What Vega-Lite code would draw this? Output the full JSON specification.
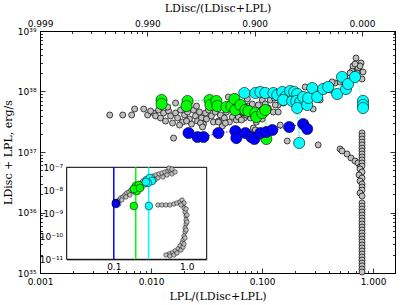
{
"$schema": "https://vega.github.io/schema/vega-lite/v6.json",
"width": 355, "height": 242,
"autosize": {"type": "none"},
"padding": {"left": 40, "top": 31, "right": 12, "bottom": 32},
"background": "white",
"config": {
  "view": {"stroke": "black", "strokeWidth": 1},
  "axis": {"grid": false, "domainColor": "black", "tickColor": "black", "labelColor": "black", "labelFont": "DejaVu Sans", "labelFontSize": 9, "titleFont": "DejaVu Serif", "titleFontSize": 11, "titleFontWeight": "normal", "titleColor": "black", "labelFlush": false, "labelOverlap": false, "labelBound": false, "zindex": 1, "tickWidth": 0.8, "domainWidth": 1}
},
"datasets": {
"main": [
{"x":0.00425,"y":4.09e37,"c":"grey"},{"x":0.00556,"y":4.09e37,"c":"grey"},{"x":0.0067,"y":4.09e37,"c":"grey"},{"x":0.00712,"y":5.14e37,"c":"grey"},{"x":0.00859,"y":5.14e37,"c":"grey"},{"x":0.00932,"y":4.09e37,"c":"grey"},{"x":0.01055,"y":4.41e37,"c":"grey"},{"x":0.00991,"y":4.76e37,"c":"grey"},{"x":0.01099,"y":3.94e37,"c":"grey"},{"x":0.0117,"y":4.94e37,"c":"grey"},{"x":0.01219,"y":3.65e37,"c":"grey"},{"x":0.01298,"y":4.41e37,"c":"grey"},{"x":0.01352,"y":3.25e37,"c":"grey"},{"x":0.01439,"y":4.76e37,"c":"grey"},{"x":0.015,"y":3.94e37,"c":"grey"},{"x":0.01563,"y":3.01e37,"c":"grey"},{"x":0.01664,"y":4.41e37,"c":"grey"},{"x":0.01734,"y":3.65e37,"c":"grey"},{"x":0.01845,"y":4.94e37,"c":"grey"},{"x":0.01923,"y":3.13e37,"c":"grey"},{"x":0.02004,"y":4.09e37,"c":"grey"},{"x":0.02133,"y":4.58e37,"c":"grey"},{"x":0.02223,"y":3.51e37,"c":"grey"},{"x":0.02317,"y":2.9e37,"c":"grey"},{"x":0.02415,"y":4.94e37,"c":"grey"},{"x":0.02517,"y":3.94e37,"c":"grey"},{"x":0.02624,"y":3.25e37,"c":"grey"},{"x":0.02735,"y":4.58e37,"c":"grey"},{"x":0.02851,"y":3.65e37,"c":"grey"},{"x":0.02972,"y":2.9e37,"c":"grey"},{"x":0.03097,"y":4.41e37,"c":"grey"},{"x":0.03162,"y":3.51e37,"c":"grey"},{"x":0.03296,"y":4.94e37,"c":"grey"},{"x":0.035,"y":3.94e37,"c":"grey"},{"x":0.03648,"y":3.13e37,"c":"grey"},{"x":0.03802,"y":4.58e37,"c":"grey"},{"x":0.04046,"y":3.25e37,"c":"grey"},{"x":0.04217,"y":4.09e37,"c":"grey"},{"x":0.04395,"y":2.69e37,"c":"grey"},{"x":0.04581,"y":3.65e37,"c":"grey"},{"x":0.04775,"y":4.58e37,"c":"grey"},{"x":0.05082,"y":3.13e37,"c":"grey"},{"x":0.05408,"y":3.79e37,"c":"grey"},{"x":0.05875,"y":3.38e37,"c":"grey"},{"x":0.06252,"y":4.25e37,"c":"grey"},{"x":0.06653,"y":4.58e37,"c":"grey"},{"x":0.06934,"y":3.65e37,"c":"grey"},{"x":0.07534,"y":5.75e37,"c":"grey"},{"x":0.08185,"y":6.21e37,"c":"grey"},{"x":0.07852,"y":3.65e37,"c":"grey"},{"x":0.09268,"y":5.98e37,"c":"grey"},{"x":0.1007,"y":7.24e37,"c":"grey"},{"x":0.1071,"y":6.21e37,"c":"grey"},{"x":0.1189,"y":7.24e37,"c":"grey"},{"x":0.1291,"y":7.81e37,"c":"grey"},{"x":0.14,"y":5.98e37,"c":"grey"},{"x":0.114,"y":5.33e37,"c":"grey"},{"x":0.01597,"y":1.7e37,"c":"grey"},{"x":0.02792,"y":3.01e37,"c":"grey"},{"x":0.02911,"y":2.59e37,"c":"grey"},{"x":0.04046,"y":3.13e37,"c":"grey"},{"x":0.04677,"y":3.01e37,"c":"grey"},{"x":0.05754,"y":8.11e37,"c":"grey"},{"x":0.04977,"y":8.11e37,"c":"grey"},{"x":0.06124,"y":3.79e37,"c":"grey"},{"x":0.06516,"y":3.38e37,"c":"grey"},{"x":0.08356,"y":2.49e37,"c":"grey"},{"x":0.0871,"y":2.31e37,"c":"grey"},{"x":0.1265,"y":4.58e37,"c":"grey"},{"x":0.1318,"y":5.98e37,"c":"grey"},{"x":0.14,"y":4.58e37,"c":"grey"},{"x":0.1459,"y":2.79e37,"c":"grey"},{"x":0.1687,"y":1.52e37,"c":"grey"},{"x":0.3206,"y":1.31e37,"c":"grey"},{"x":0.01664,"y":6.45e37,"c":"grey"},{"x":0.0141,"y":5.54e37,"c":"grey"},{"x":0.2449,"y":1.19e38,"c":"grey"},{"x":0.456,"y":1.38e38,"c":"grey"},{"x":0.4285,"y":1.44e38,"c":"grey"},{"x":0.2891,"y":5.14e37,"c":"grey"},{"x":0.6471,"y":2.18e38,"c":"grey"},{"x":0.6607,"y":2.64e38,"c":"grey"},{"x":0.7031,"y":3.58e38,"c":"grey"},{"x":0.7798,"y":2.96e38,"c":"grey"},{"x":0.7328,"y":2.44e38,"c":"grey"},{"x":0.8128,"y":2.1e38,"c":"grey"},{"x":0.7962,"y":1.61e38,"c":"grey"},{"x":0.7178,"y":2.02e38,"c":"grey"},{"x":0.6212,"y":2.02e38,"c":"grey"},{"x":0.5603,"y":1.67e38,"c":"grey"},{"x":0.5054,"y":1.44e38,"c":"grey"},{"x":0.3706,"y":1.23e38,"c":"grey"},{"x":0.3013,"y":1.06e38,"c":"grey"},{"x":0.2208,"y":8.75e37,"c":"grey"},{"x":0.1795,"y":7.81e37,"c":"grey"},{"x":0.1553,"y":6.45e37,"c":"grey"},{"x":0.07228,"y":4.09e37,"c":"grey"},{"x":0.02089,"y":3.25e37,"c":"grey"},{"x":0.01807,"y":2.79e37,"c":"grey"},{"x":0.01219,"y":5.75e37,"c":"grey"},{"x":0.0257,"y":5.75e37,"c":"grey"},{"x":0.03577,"y":5.98e37,"c":"grey"},{"x":0.08892,"y":3.13e37,"c":"grey"},{"x":0.1007,"y":3.51e37,"c":"grey"},{"x":0.07379,"y":7.52e37,"c":"grey"},{"x":0.3342,"y":7.24e37,"c":"grey"},{"x":0.411,"y":1.06e38,"c":"grey"},{"x":0.5603,"y":1.33e38,"c":"grey"},{"x":0.7638,"y":2.64e38,"c":"grey"},{"x":0.6887,"y":2.85e38,"c":"grey"},
{"x":0.5054,"y":1.12e37,"c":"grey"},{"x":0.526,"y":1.04e37,"c":"grey"},{"x":0.5834,"y":9.27e36,"c":"grey"},{"x":0.6339,"y":7.96e36,"c":"grey"},{"x":0.6887,"y":7.1e36,"c":"grey"},{"x":0.7328,"y":6.58e36,"c":"grey"},{"x":0.7638,"y":5.65e36,"c":"grey"},
{"x":0.7962,"y":2.06e37,"c":"grey"},{"x":0.7962,"y":1.84e37,"c":"grey"},{"x":0.7962,"y":1.64e37,"c":"grey"},{"x":0.7962,"y":1.46e37,"c":"grey"},{"x":0.7962,"y":1.31e37,"c":"grey"},{"x":0.7962,"y":1.16e37,"c":"grey"},{"x":0.7962,"y":1.04e37,"c":"grey"},{"x":0.7962,"y":9.27e36,"c":"grey"},{"x":0.7962,"y":8.26e36,"c":"grey"},{"x":0.7962,"y":7.38e36,"c":"grey"},{"x":0.7962,"y":6.58e36,"c":"grey"},{"x":0.7962,"y":5.87e36,"c":"grey"},{"x":0.7638,"y":5.24e36,"c":"grey"},{"x":0.7962,"y":4.67e36,"c":"grey"},{"x":0.7482,"y":4.17e36,"c":"grey"},{"x":0.7962,"y":3.72e36,"c":"grey"},{"x":0.7638,"y":3.32e36,"c":"grey"},{"x":0.7962,"y":2.96e36,"c":"grey"},{"x":0.7962,"y":2.64e36,"c":"grey"},{"x":0.7962,"y":2.35e36,"c":"grey"},{"x":0.7638,"y":2.1e36,"c":"grey"},{"x":0.7962,"y":1.87e36,"c":"grey"},
{"x":0.7962,"y":1.44e36,"c":"grey"},{"x":0.7962,"y":1.28e36,"c":"grey"},{"x":0.7962,"y":1.14e36,"c":"grey"},{"x":0.7962,"y":1.02e36,"c":"grey"},{"x":0.7962,"y":9.1e35,"c":"grey"},{"x":0.7962,"y":8.11e35,"c":"grey"},{"x":0.7962,"y":7.24e35,"c":"grey"},{"x":0.7962,"y":6.45e35,"c":"grey"},{"x":0.7962,"y":5.75e35,"c":"grey"},{"x":0.7962,"y":5.14e35,"c":"grey"},{"x":0.7962,"y":4.58e35,"c":"grey"},{"x":0.7962,"y":4.09e35,"c":"grey"},{"x":0.7962,"y":3.65e35,"c":"grey"},{"x":0.7962,"y":3.25e35,"c":"grey"},{"x":0.7962,"y":2.9e35,"c":"grey"},{"x":0.7962,"y":2.59e35,"c":"grey"},{"x":0.7962,"y":2.31e35,"c":"grey"},{"x":0.7962,"y":2.06e35,"c":"grey"},{"x":0.7962,"y":1.84e35,"c":"grey"},{"x":0.7962,"y":1.64e35,"c":"grey"},{"x":0.7962,"y":1.46e35,"c":"grey"},{"x":0.7962,"y":1.31e35,"c":"grey"},{"x":0.7962,"y":1.16e35,"c":"grey"},{"x":0.7962,"y":1.04e35,"c":"grey"},
{"x":0.01245,"y":7.24e37,"c":"green"},{"x":0.01245,"y":6.21e37,"c":"green"},{"x":0.02133,"y":6.97e37,"c":"green"},{"x":0.02089,"y":5.75e37,"c":"green"},{"x":0.03365,"y":7.24e37,"c":"green"},{"x":0.03436,"y":5.98e37,"c":"green"},{"x":0.03882,"y":6.97e37,"c":"green"},{"x":0.03963,"y":5.75e37,"c":"green"},{"x":0.04775,"y":5.54e37,"c":"green"},{"x":0.05297,"y":5.75e37,"c":"green"},{"x":0.05636,"y":7.52e37,"c":"green"},{"x":0.05754,"y":4.94e37,"c":"green"},{"x":0.06383,"y":5.98e37,"c":"green"},{"x":0.07079,"y":4.94e37,"c":"green"},{"x":0.07534,"y":4.76e37,"c":"green"},{"x":0.0871,"y":4.41e37,"c":"green"},{"x":0.08892,"y":3.79e37,"c":"green"},{"x":0.1007,"y":4.41e37,"c":"green"},{"x":0.1071,"y":4.94e37,"c":"green"},{"x":0.1094,"y":1.64e37,"c":"green"},
{"x":0.02178,"y":2.06e37,"c":"blue"},{"x":0.02624,"y":1.77e37,"c":"blue"},{"x":0.02972,"y":1.77e37,"c":"blue"},{"x":0.04046,"y":2.06e37,"c":"blue"},{"x":0.05754,"y":2.22e37,"c":"blue"},{"x":0.05875,"y":1.7e37,"c":"blue"},{"x":0.07079,"y":2.06e37,"c":"blue"},{"x":0.08017,"y":1.77e37,"c":"blue"},{"x":0.08531,"y":1.64e37,"c":"blue"},{"x":0.0966,"y":2.06e37,"c":"blue"},{"x":0.1094,"y":2.14e37,"c":"blue"},{"x":0.1239,"y":2.31e37,"c":"blue"},{"x":0.1758,"y":2.59e37,"c":"blue"},{"x":0.235,"y":2.9e37,"c":"blue"},{"x":0.2553,"y":2.4e37,"c":"blue"},
{"x":0.06934,"y":9.45e37,"c":"cyan"},{"x":0.0871,"y":9.45e37,"c":"cyan"},{"x":0.0966,"y":9.82e37,"c":"cyan"},{"x":0.1071,"y":9.45e37,"c":"cyan"},{"x":0.1265,"y":9.45e37,"c":"cyan"},{"x":0.1372,"y":8.75e37,"c":"cyan"},{"x":0.1521,"y":9.82e37,"c":"cyan"},{"x":0.1618,"y":8.11e37,"c":"cyan"},{"x":0.1553,"y":7.24e37,"c":"cyan"},{"x":0.1795,"y":1.02e38,"c":"cyan"},{"x":0.1871,"y":6.97e37,"c":"cyan"},{"x":0.195,"y":9.82e37,"c":"cyan"},{"x":0.2075,"y":9.1e37,"c":"cyan"},{"x":0.2032,"y":6.97e37,"c":"cyan"},{"x":0.2208,"y":6.7e37,"c":"cyan"},{"x":0.2075,"y":5.33e37,"c":"cyan"},{"x":0.235,"y":8.11e37,"c":"cyan"},{"x":0.2553,"y":5.98e37,"c":"cyan"},{"x":0.2606,"y":7.81e37,"c":"cyan"},{"x":0.2831,"y":1.14e38,"c":"cyan"},{"x":0.3141,"y":8.11e37,"c":"cyan"},{"x":0.3556,"y":1.1e38,"c":"cyan"},{"x":0.3944,"y":1.19e38,"c":"cyan"},{"x":0.475,"y":9.1e37,"c":"cyan"},{"x":0.526,"y":1.74e38,"c":"cyan"},{"x":0.5715,"y":1.1e38,"c":"cyan"},{"x":0.5957,"y":1.33e38,"c":"cyan"},{"x":0.6887,"y":1.74e38,"c":"cyan"},{"x":0.8128,"y":6.97e37,"c":"cyan"},{"x":0.8128,"y":5.98e37,"c":"cyan"},{"x":0.8128,"y":5.33e37,"c":"cyan"},{"x":0.2163,"y":1.41e37,"c":"cyan"}
],
"inset": [
{"x":0.11,"y":3.1e-9,"c":"grey"},{"x":0.1172,"y":3.79e-9,"c":"grey"},{"x":0.1248,"y":4.63e-9,"c":"grey"},{"x":0.133,"y":5.11e-9,"c":"grey"},{"x":0.1416,"y":6.25e-9,"c":"grey"},{"x":0.1509,"y":7.63e-9,"c":"grey"},{"x":0.1607,"y":8.44e-9,"c":"grey"},{"x":0.1713,"y":1.03e-8,"c":"grey"},{"x":0.1824,"y":1.14e-8,"c":"grey"},{"x":0.1944,"y":1.39e-8,"c":"grey"},{"x":0.2071,"y":1.54e-8,"c":"grey"},{"x":0.2207,"y":1.88e-8,"c":"grey"},{"x":0.235,"y":2.08e-8,"c":"grey"},{"x":0.2504,"y":2.54e-8,"c":"grey"},{"x":0.2667,"y":2.81e-8,"c":"grey"},{"x":0.2935,"y":3.1e-8,"c":"grey"},{"x":0.3126,"y":3.43e-8,"c":"grey"},{"x":0.3439,"y":4.19e-8,"c":"grey"},{"x":0.3781,"y":4.63e-8,"c":"grey"},{"x":0.4157,"y":5.11e-8,"c":"grey"},{"x":0.4572,"y":5.65e-8,"c":"grey"},{"x":0.5028,"y":6.25e-8,"c":"grey"},{"x":0.553,"y":6.91e-8,"c":"grey"},{"x":0.5894,"y":7.63e-8,"c":"grey"},{"x":0.6279,"y":5.11e-8,"c":"grey"},{"x":0.5709,"y":9.33e-8,"c":"grey"},{"x":0.5356,"y":4.63e-8,"c":"grey"},{"x":0.472,"y":3.79e-8,"c":"grey"},{"x":0.4027,"y":3.43e-8,"c":"grey"},{"x":0.3662,"y":2.81e-8,"c":"grey"},{"x":0.3331,"y":2.3e-8,"c":"grey"},{"x":0.2935,"y":1.88e-8,"c":"grey"},{"x":0.2667,"y":1.7e-8,"c":"grey"},{"x":0.2426,"y":1.26e-8,"c":"grey"},{"x":0.2138,"y":1.03e-8,"c":"grey"},{"x":0.1883,"y":8.44e-9,"c":"grey"},{"x":0.1659,"y":6.25e-9,"c":"grey"},{"x":0.1462,"y":5.11e-9,"c":"grey"},{"x":0.1288,"y":3.79e-9,"c":"grey"},{"x":0.1172,"y":2.54e-9,"c":"grey"},{"x":0.6905,"y":6.25e-8,"c":"grey"},{"x":0.6279,"y":8.44e-8,"c":"grey"},
{"x":0.4027,"y":2.3e-9,"c":"grey"},{"x":0.4572,"y":2.3e-9,"c":"grey"},{"x":0.519,"y":2.3e-9,"c":"grey"},{"x":0.5894,"y":2.3e-9,"c":"grey"},{"x":0.668,"y":2.54e-9,"c":"grey"},{"x":0.7355,"y":2.81e-9,"c":"grey"},{"x":0.809,"y":3.1e-9,"c":"grey"},{"x":0.8623,"y":3.79e-9,"c":"grey"},{"x":0.8902,"y":2.54e-9,"c":"grey"},{"x":0.9191,"y":1.7e-9,"c":"grey"},{"x":0.9489,"y":1.14e-9,"c":"grey"},{"x":0.9796,"y":7.63e-10,"c":"grey"},{"x":0.9796,"y":5.11e-10,"c":"grey"},{"x":0.9796,"y":3.43e-10,"c":"grey"},{"x":0.9489,"y":2.3e-10,"c":"grey"},{"x":0.9489,"y":1.54e-10,"c":"grey"},{"x":0.9191,"y":1.03e-10,"c":"grey"},{"x":0.8902,"y":6.91e-11,"c":"grey"},{"x":0.8623,"y":5.11e-11,"c":"grey"},{"x":0.809,"y":3.79e-11,"c":"grey"},{"x":0.759,"y":2.81e-11,"c":"grey"},{"x":0.6905,"y":2.3e-11,"c":"grey"},{"x":0.6279,"y":1.88e-11,"c":"grey"},{"x":0.5709,"y":1.7e-11,"c":"grey"},{"x":0.519,"y":1.54e-11,"c":"grey"},{"x":0.5894,"y":1.39e-11,"c":"grey"},{"x":0.668,"y":1.54e-11,"c":"grey"},{"x":0.7355,"y":1.88e-11,"c":"grey"},{"x":0.8352,"y":2.54e-11,"c":"grey"},{"x":0.8902,"y":3.43e-11,"c":"grey"},{"x":0.9191,"y":4.63e-11,"c":"grey"},{"x":0.9489,"y":8.44e-11,"c":"grey"},{"x":0.9796,"y":1.88e-10,"c":"grey"},{"x":1.009,"y":4.19e-10,"c":"grey"},{"x":1.009,"y":8.44e-10,"c":"grey"},{"x":0.9796,"y":1.54e-9,"c":"grey"},{"x":0.9191,"y":2.81e-9,"c":"grey"},{"x":0.8352,"y":2.3e-9,"c":"grey"},
{"x":0.1066,"y":2.81e-9,"c":"blue"},{"x":0.1066,"y":2.54e-9,"c":"blue"},
{"x":0.1883,"y":2.08e-9,"c":"green"},{"x":0.2009,"y":1.54e-8,"c":"green"},{"x":0.2207,"y":1.7e-8,"c":"green"},{"x":0.2071,"y":9.33e-9,"c":"green"},{"x":0.1883,"y":1.14e-8,"c":"green"},{"x":0.228,"y":1.26e-8,"c":"green"},
{"x":0.3027,"y":2.08e-9,"c":"cyan"},{"x":0.2844,"y":2.81e-8,"c":"cyan"},{"x":0.3126,"y":3.43e-8,"c":"cyan"},{"x":0.3331,"y":2.54e-8,"c":"cyan"},{"x":0.2935,"y":2.08e-8,"c":"cyan"},{"x":0.2754,"y":2.3e-8,"c":"cyan"}
],
"vlines": [
{"x":0.1,"y":1e-11,"y2":1e-7,"c":"blue"},{"x":0.2,"y":1e-11,"y2":1e-7,"c":"green"},{"x":0.3,"y":1e-11,"y2":1e-7,"c":"cyan"}
],
"frame": [{"x":0.0226,"x2":1.88,"y":1e-11,"y2":1e-7}]
},
"layer": [
{
  "data": {"name": "main"},
  "encoding": {
    "x": {"field": "x", "type": "quantitative", "scale": {"type": "log", "domain": [0.001, 1.578], "nice": false},
      "axis": {"orient": "bottom", "title": "LPL/(LDisc+LPL)", "titlePadding": 2,
        "values": [0.001,0.002,0.003,0.004,0.005,0.006,0.007,0.008,0.009,0.01,0.02,0.03,0.04,0.05,0.06,0.07,0.08,0.09,0.1,0.2,0.3,0.4,0.5,0.6,0.7,0.8,0.9,1],
        "labelExpr": "abs(log(datum.value)/LN10-round(log(datum.value)/LN10))<0.001 ? format(datum.value, '.3f') : ''",
        "tickSize": {"condition": {"test": "abs(log(datum.value)/LN10-round(log(datum.value)/LN10))<0.001", "value": -5}, "value": -2.5},
        "labelPadding": 9}},
    "y": {"field": "y", "type": "quantitative", "scale": {"type": "log", "domain": [1e35, 1e39], "nice": false},
      "axis": {"orient": "left", "title": "LDisc + LPL, erg/s", "titlePadding": 4,
        "values": [1e35,2e35,3e35,4e35,5e35,6e35,7e35,8e35,9e35,1e36,2e36,3e36,4e36,5e36,6e36,7e36,8e36,9e36,1e37,2e37,3e37,4e37,5e37,6e37,7e37,8e37,9e37,1e38,2e38,3e38,4e38,5e38,6e38,7e38,8e38,9e38,1e39],
        "labelExpr": "datum.value==1e35?'10³⁵':datum.value==1e36?'10³⁶':datum.value==1e37?'10³⁷':datum.value==1e38?'10³⁸':datum.value==1e39?'10³⁹':''",
        "tickSize": {"condition": {"test": "abs(log(datum.value)/LN10-round(log(datum.value)/LN10))<0.001", "value": -5}, "value": -2.5},
        "labelPadding": 9}},
    "color": {"field": "c", "type": "nominal", "scale": {"domain": ["grey", "blue", "green", "cyan"], "range": ["#c0c0c0", "#0000ff", "#00ff00", "#00ffff"]}, "legend": null}
  },
  "layer": [
    {"transform": [{"filter": "datum.c == 'grey'"}], "mark": {"type": "circle", "size": 36, "stroke": "black", "strokeWidth": 0.7, "opacity": 1}},
    {"transform": [{"filter": "datum.c != 'grey'"}], "mark": {"type": "line", "strokeDash": [1.5, 1.5], "strokeWidth": 0.8}},
    {"transform": [{"filter": "datum.c != 'grey'"}], "mark": {"type": "circle", "size": 125, "stroke": "black", "strokeWidth": 0.6, "opacity": 1}}
  ]
},
{
  "data": {"values": [{"a": 0.001, "b": 1e35}]},
  "mark": {"type": "point", "opacity": 0},
  "encoding": {
    "x": {"field": "a", "type": "quantitative", "scale": {"type": "log", "domain": [0.001, 2.03], "nice": false},
      "axis": {"orient": "top", "title": "LDisc/(LDisc+LPL)", "titlePadding": 3,
        "values": [0.001,0.002,0.003,0.004,0.005,0.006,0.007,0.008,0.009,0.01,0.02,0.03,0.04,0.05,0.06,0.07,0.08,0.09,0.1,0.2,0.3,0.4,0.5,0.6,0.7,0.8,0.9,1,2],
        "labelExpr": "abs(log(datum.value)/LN10-round(log(datum.value)/LN10))<0.001 ? format(1-datum.value, '.3f') : ''",
        "tickSize": {"condition": {"test": "abs(log(datum.value)/LN10-round(log(datum.value)/LN10))<0.001", "value": -5}, "value": -2.5},
        "labelPadding": 8}},
    "y": {"field": "b", "type": "quantitative", "scale": {"type": "log", "domain": [1e35, 1e39], "nice": false},
      "axis": {"orient": "right", "title": null, "labels": false,
        "values": [1e35,2e35,3e35,4e35,5e35,6e35,7e35,8e35,9e35,1e36,2e36,3e36,4e36,5e36,6e36,7e36,8e36,9e36,1e37,2e37,3e37,4e37,5e37,6e37,7e37,8e37,9e37,1e38,2e38,3e38,4e38,5e38,6e38,7e38,8e38,9e38,1e39],
        "tickSize": {"condition": {"test": "abs(log(datum.value)/LN10-round(log(datum.value)/LN10))<0.001", "value": -5}, "value": -2.5}}}
  }
},
{
  "encoding": {
    "x": {"field": "x", "type": "quantitative", "scale": {"type": "log", "domain": [0.0226, 1.88], "nice": false, "range": [26.7, 166.7]},
      "axis": {"orient": "bottom", "offset": -13.7, "title": null,
        "values": [0.03,0.04,0.05,0.06,0.07,0.08,0.09,0.1,0.2,0.3,0.4,0.5,0.6,0.7,0.8,0.9,1],
        "labelExpr": "datum.value==0.1?'0.1':datum.value==1?'1.0':''",
        "tickSize": {"condition": {"test": "datum.value==0.1||datum.value==1", "value": -4}, "value": -2},
        "labelPadding": 7}},
    "y": {"field": "y", "type": "quantitative", "scale": {"type": "log", "domain": [1e-11, 1e-7], "nice": false, "range": [228.3, 136.3]},
      "axis": {"orient": "left", "offset": -26.7, "title": null,
        "values": [1e-11, 1e-10, 1e-9, 1e-8, 1e-7],
        "labelExpr": "datum.value==1e-7?'10⁻⁷':datum.value==1e-8?'10⁻⁸':datum.value==1e-9?'10⁻⁹':datum.value==1e-10?'10⁻¹⁰':datum.value==1e-11?'10⁻¹¹':''",
        "tickSize": -4, "labelPadding": 8}}
  },
  "layer": [
    {"data": {"name": "frame"}, "mark": {"type": "rect", "fill": "white", "stroke": "black", "strokeWidth": 1},
     "encoding": {"x2": {"field": "x2"}, "y2": {"field": "y2"}}},
    {"data": {"name": "vlines"}, "mark": {"type": "rule", "strokeWidth": 1.5},
     "encoding": {"y2": {"field": "y2"}, "color": {"field": "c", "type": "nominal", "legend": null}}},
    {"data": {"name": "inset"}, "transform": [{"filter": "datum.c == 'grey'"}], "mark": {"type": "circle", "size": 20, "stroke": "black", "strokeWidth": 0.5, "opacity": 1},
     "encoding": {"color": {"field": "c", "type": "nominal", "legend": null}}},
    {"data": {"name": "inset"}, "transform": [{"filter": "datum.c != 'grey'"}], "mark": {"type": "circle", "size": 60, "stroke": "black", "strokeWidth": 0.5, "opacity": 1},
     "encoding": {"color": {"field": "c", "type": "nominal", "legend": null}}}
  ]
}
],
"resolve": {"scale": {"x": "independent", "y": "independent"}}
}
